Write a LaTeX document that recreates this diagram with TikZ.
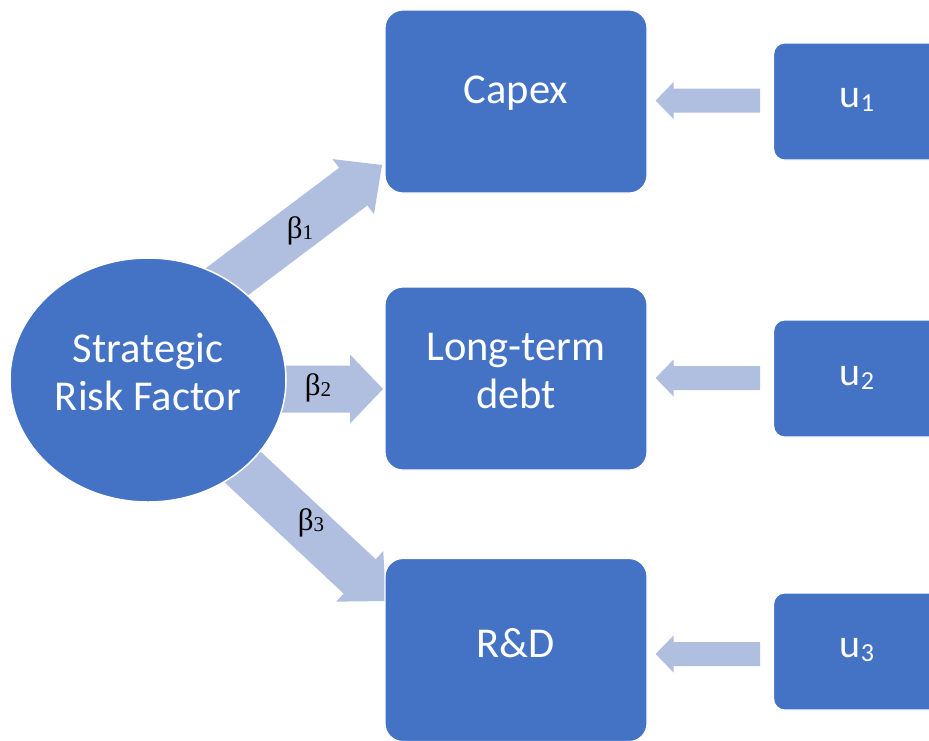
\documentclass[tikz,border=0pt]{standalone}
\usepackage{fontspec}
\setmainfont{Carlito}
\newfontfamily\greekserif{Liberation Serif}
\usetikzlibrary{calc,shapes.geometric}

\definecolor{boxblue}{RGB}{68,114,196}
\definecolor{arrowblue}{RGB}{176,190,223}

% Block arrow from tail #1 to tip #2: half shaft width #3, half head width #4, head length #5
\newcommand{\blockarrow}[5]{%
  \coordinate (hb) at ($(#2)!#5!(#1)$);
  \fill[arrowblue]
    ($(#1)!#3!90:(#2)$) -- ($(hb)!#3!-90:(#1)$) -- ($(hb)!#4!-90:(#1)$) --
    (#2) --
    ($(hb)!#4!90:(#1)$) -- ($(hb)!#3!90:(#1)$) -- ($(#1)!#3!-90:(#2)$) -- cycle;
}

\tikzset{
  bigbox/.style={draw=white, line width=1.2pt, fill=boxblue, rounded corners=18pt,
    minimum width=262pt, minimum height=183pt, inner sep=0pt},
  errbox/.style={draw=white, line width=1.2pt, fill=boxblue, rounded corners=11pt,
    minimum width=180pt, minimum height=117pt, inner sep=0pt},
  boxtext/.style={text=white, font=\fontsize{42.5}{48}\selectfont, align=center, inner sep=0pt},
  errtext/.style={text=white, font=\fontsize{40}{48}\selectfont, inner sep=0pt},
  coef/.style={text=black, font=\greekserif\fontsize{31}{34}\selectfont, inner sep=0pt},
}

\newcommand{\sub}[1]{\raisebox{-0.12em}{\fontsize{26}{26}\selectfont #1}}
\newcommand{\gsub}[1]{\raisebox{-0.04em}{\fontsize{21}{21}\selectfont #1}}

\begin{document}
\begin{tikzpicture}[x=1pt,y=-1pt]
  \clip (0,0) rectangle (929,740);
  \fill[white] (0,0) rectangle (929,740);

  % coefficient arrows (drawn first, tails hidden under the factor)
  \coordinate (t1) at (182,315.5);  \coordinate (p1) at (382,165);
  \coordinate (t2) at (200,389);    \coordinate (p2) at (383,389);
  \coordinate (t3) at (203,430);    \coordinate (p3) at (386,601);
  \blockarrow{t1}{p1}{23.5pt}{34.5pt}{36pt}
  \blockarrow{t2}{p2}{23.5pt}{34.5pt}{33pt}
  \blockarrow{t3}{p3}{23.5pt}{34.5pt}{36pt}

  % latent factor
  \node[draw=white, line width=1.5pt, fill=boxblue, ellipse, minimum width=276pt,
        minimum height=244pt, inner sep=0pt] (srf) at (148,380) {};
  \node[boxtext] (srfT) at (148,372) {Strategic\\Risk Factor};

  % observed outcomes
  \node[bigbox] (capex) at (516,101.5) {};
  \node[boxtext] (capexT) at (516,93) {Capex};
  \node[bigbox] (ltd) at (516,378.5) {};
  \node[boxtext] (ltdT) at (516,371) {Long-term\\debt};
  \node[bigbox] (rd) at (516,650) {};
  \node[boxtext] (rdT) at (516,643) {R\&D};

  % error terms
  \node[errbox, anchor=west] (u1) at (773,101.5) {};
  \node[errtext] (u1T) at (857,100) {u\sub{1}};
  \node[errbox, anchor=west] (u2) at (773,378.5) {};
  \node[errtext] (u2T) at (857,378) {u\sub{2}};
  \node[errbox, anchor=west] (u3) at (773,651.5) {};
  \node[errtext] (u3T) at (857,650) {u\sub{3}};

  % error arrows
  \coordinate (e1) at ($(u1.west)+(-13,-1)$);
  \coordinate (e2) at ($(u2.west)+(-13,-0.5)$);
  \coordinate (e3) at ($(u3.west)+(-13,2.5)$);
  \coordinate (f1) at ($(capex.east)+(8,-1)$);
  \coordinate (f2) at ($(ltd.east)+(8,-0.5)$);
  \coordinate (f3) at ($(rd.east)+(8,4)$);
  \blockarrow{e1}{f1}{12pt}{18.5pt}{18pt}
  \blockarrow{e2}{f2}{12pt}{18.5pt}{18pt}
  \blockarrow{e3}{f3}{12pt}{18.5pt}{18pt}

  % coefficient labels
  \node[coef] (b1) at (300,231) {β\gsub{1}};
  \node[coef] (b2) at (318,388) {β\gsub{2}};
  \node[coef] (b3) at (311,523) {β\gsub{3}};
\end{tikzpicture}
\end{document}
